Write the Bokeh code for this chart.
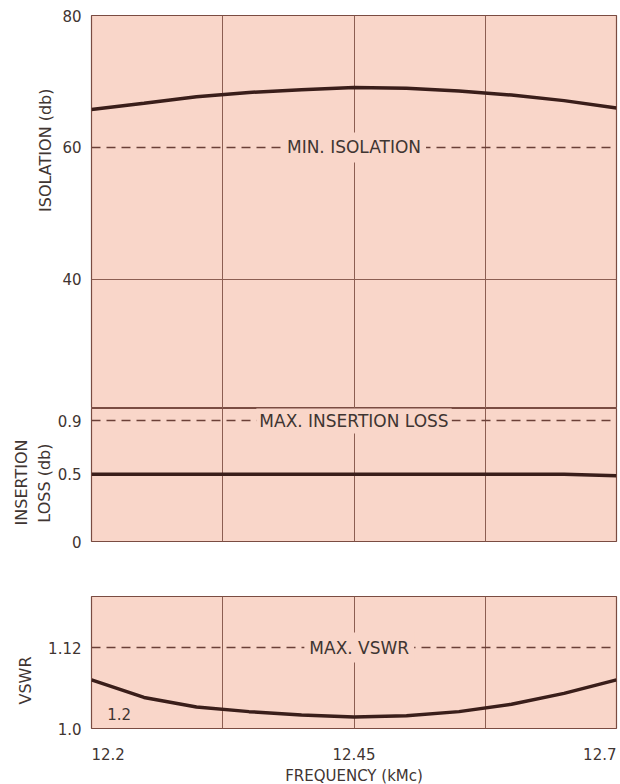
from bokeh.plotting import figure
from bokeh.layouts import column
from bokeh.models import FixedTicker, Label, Span, Range1d, Title
from bokeh.embed import file_html
from bokeh.resources import INLINE

# ---------------- data ----------------
freq = [12.2, 12.25, 12.3, 12.35, 12.4, 12.45, 12.5, 12.55, 12.6, 12.65, 12.7]
isolation_db = [65.75, 66.7, 67.7, 68.35, 68.75, 69.08, 68.96, 68.55, 67.94, 67.1, 66.0]
insertion_loss_db = [0.50, 0.50, 0.50, 0.50, 0.50, 0.50, 0.50, 0.50, 0.50, 0.50, 0.49]
vswr = [1.072, 1.046, 1.032, 1.025, 1.020, 1.017, 1.019, 1.025, 1.036, 1.052, 1.072]

min_isolation = 60
max_insertion_loss = 0.9
max_vswr = 1.12

x_ticks = [12.2, 12.45, 12.7]
x_tick_labels = ["12.2", "12.45", "12.7"]
grid_x = [12.325, 12.45, 12.575]
iso_ticks = [40, 60, 80]
iso_grid = [40]
il_ticks = [0, 0.5, 0.9]
il_tick_labels = ["0", "0.5", "0.9"]
vswr_ticks = [1.0, 1.12]
vswr_tick_labels = ["1.0", "1.12"]

# ---------------- style ----------------
PINK = "#f9d6c9"
FRAME = "#7a4c42"
GRID = "#8c5e52"
CURVE = "#3a1e1a"
DASH = "#6b4038"
TEXT = "#3f3532"
FONT = "DejaVu Sans"
W = 618
LEFT = 91
RIGHT = 2

x_range = Range1d(12.2, 12.7)


def make_fig(height, y0, y1, top, bottom, ticks, overrides=None):
    p = figure(width=W, height=height, x_range=x_range, y_range=Range1d(y0, y1),
               output_backend="svg", toolbar_location=None,
               min_border_left=LEFT, min_border_right=RIGHT,
               min_border_top=top, min_border_bottom=bottom,
               background_fill_color=PINK, border_fill_color="white",
               outline_line_color=FRAME, outline_line_width=1.2)
    p.xaxis.visible = False
    p.xgrid.ticker = FixedTicker(ticks=grid_x)
    p.xgrid.grid_line_color = GRID
    p.xgrid.grid_line_width = 1
    p.ygrid.grid_line_color = None
    ax = p.yaxis[0]
    ax.ticker = FixedTicker(ticks=ticks)
    if overrides:
        ax.major_label_overrides = overrides
    ax.axis_line_color = None
    ax.major_tick_line_color = None
    ax.minor_tick_line_color = None
    ax.major_tick_out = 0
    ax.major_tick_in = 0
    ax.major_label_standoff = 10
    ax.major_label_text_font = FONT
    ax.major_label_text_font_size = "15px"
    ax.major_label_text_color = TEXT
    return p


def inner_label(p, x, y, text, pad=5):
    p.add_layout(Label(x=x, y=y, text=text, text_align="center", text_baseline="middle",
                       text_font=FONT, text_font_size="17px", text_color=TEXT,
                       background_fill_color=PINK, background_fill_alpha=1.0,
                       border_line_color=None, padding=pad))


def side_title(p, text, offset, standoff=4):
    # align="right" on a left panel anchors the text end at frame top + offset
    p.add_layout(Title(text=text, align="right", offset=offset, standoff=standoff,
                       text_font=FONT, text_font_size="16px", text_font_style="normal",
                       text_color=TEXT), "left")


# ---------------- isolation ----------------
p1 = make_fig(408, 20.45, 80, 15, 0, iso_ticks)
p1.ygrid.ticker = FixedTicker(ticks=iso_grid)
p1.ygrid.grid_line_color = GRID
p1.add_layout(Span(location=min_isolation, dimension="width", line_color=DASH,
                   line_width=1.5, line_dash="9 6"))
p1.line(freq, isolation_db, line_color=CURVE, line_width=3.5)
inner_label(p1, 12.45, min_isolation, "MIN. ISOLATION")
side_title(p1, "ISOLATION (db)", 73, 10)

# ---------------- insertion loss ----------------
p2 = make_fig(145, 0, 0.99, 0, 12, il_ticks,
              {t: s for t, s in zip(il_ticks, il_tick_labels)})
p2.add_layout(Span(location=max_insertion_loss, dimension="width", line_color=DASH,
                   line_width=1.5, line_dash="9 6"))
p2.line(freq, insertion_loss_db, line_color=CURVE, line_width=3.5)
inner_label(p2, 12.45, max_insertion_loss, "MAX. INSERTION LOSS", 3)
side_title(p2, "LOSS (db)", 35, 2)
side_title(p2, "INSERTION", 31, 2)

# ---------------- VSWR ----------------
p3 = make_fig(185, 1.0, 1.1956, 43, 10, vswr_ticks,
              {t: s for t, s in zip(vswr_ticks, vswr_tick_labels)})
p3.add_layout(Span(location=max_vswr, dimension="width", line_color=DASH,
                   line_width=1.5, line_dash="9 6"))
p3.line(freq, vswr, line_color=CURVE, line_width=3.5)
inner_label(p3, 12.455, max_vswr, "MAX. VSWR")
side_title(p3, "VSWR", 60, 22)
p3.add_layout(Label(x=12.215, y=1.022, text="1.2", text_align="left", text_baseline="middle",
                    text_font=FONT, text_font_size="15px", text_color=TEXT))

# ---------------- frequency axis strip ----------------
p4 = figure(width=W, height=46, x_range=x_range, y_range=Range1d(0, 1),
            output_backend="svg", toolbar_location=None,
            min_border_left=LEFT, min_border_right=RIGHT,
            min_border_top=0, min_border_bottom=0,
            background_fill_color="white", border_fill_color="white",
            outline_line_color=None)
p4.xaxis.visible = False
p4.yaxis.visible = False
p4.grid.grid_line_color = None
aligns = ["left", "center", "right"]
for xv, lab, al in zip(x_ticks, x_tick_labels, aligns):
    p4.add_layout(Label(x=xv, y=31, y_units="screen", text=lab, text_align=al,
                        text_baseline="middle", text_font=FONT, text_font_size="15px",
                        text_color=TEXT))
p4.add_layout(Label(x=12.45, y=9, y_units="screen", text="FREQUENCY (kMc)",
                    text_align="center", text_baseline="middle", text_font=FONT,
                    text_font_size="15px", text_color=TEXT))

layout = column(p1, p2, p3, p4, spacing=0)
open("out.html", "w").write(file_html(layout, INLINE))
